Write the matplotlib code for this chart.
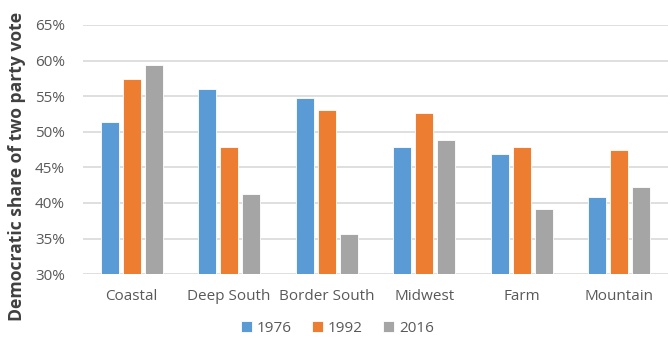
import numpy as np
import matplotlib.pyplot as plt

plt.rcParams['font.family'] = ['Open Sans', 'DejaVu Sans']

regions = ["Coastal", "Deep South", "Border South", "Midwest", "Farm", "Mountain"]
years = ["1976", "1992", "2016"]
share_1976 = [51.4, 56.0, 54.7, 47.8, 46.9, 40.9]
share_1992 = [57.4, 47.9, 53.0, 52.6, 47.8, 47.4]
share_2016 = [59.4, 41.25, 35.7, 48.8, 39.2, 42.3]
colors = ["#5B9BD5", "#ED7D31", "#A5A5A5"]
text_color = "#595959"

fig = plt.figure(figsize=(6.68, 3.41), dpi=100)
ax = fig.add_axes([0.124, 0.196, 0.876, 0.731])

x = np.arange(len(regions))
step = 0.225
for i, (vals, year) in enumerate(zip([share_1976, share_1992, share_2016], years)):
    ax.bar(x + (i - 1) * step, np.array(vals) - 30, bottom=30, width=0.185,
           color=colors[i], edgecolor="white", linewidth=0.6, label=year, zorder=3)

ax.set_xlim(-0.5, len(regions) - 0.5)
ax.set_ylim(30, 65)
ax.set_yticks(np.arange(30, 66, 5))
ax.set_yticklabels([f"{t}%" for t in range(30, 66, 5)])
ax.set_xticks(x)
ax.set_xticklabels(regions)
ax.grid(axis="y", color="#D9D9D9", linewidth=1.2, zorder=0)
for s in ax.spines.values():
    s.set_visible(False)
ax.tick_params(length=0, labelsize=11, colors=text_color)
ax.tick_params(axis="x", pad=11)
ax.tick_params(axis="y", pad=13)

fig.text(0.026, 0.513, "Democratic share of two party vote", rotation=90,
         ha="center", va="center", fontsize=12.6, fontweight="bold", color="#404040")

fig.legend(loc="lower center", ncol=3, frameon=False, bbox_to_anchor=(0.505, -0.025),
           fontsize=11, handlelength=0.75, handleheight=0.75, handletextpad=0.3,
           columnspacing=1.3, labelcolor=text_color)

fig.savefig("out.png", dpi=100)
